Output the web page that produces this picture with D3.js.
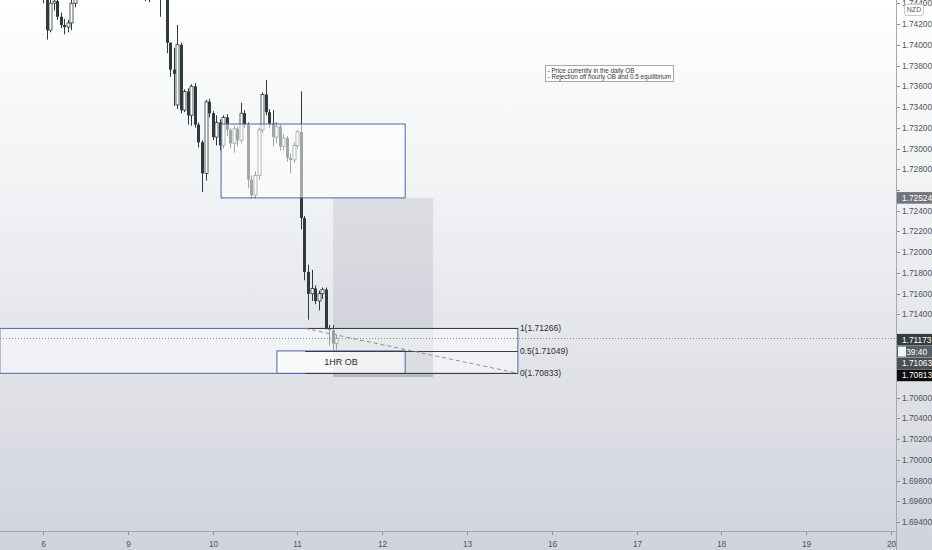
<!DOCTYPE html>
<html><head><meta charset="utf-8">
<script src="https://cdn.jsdelivr.net/npm/d3@7"></script>
<style>html,body{margin:0;padding:0;background:#fff;overflow:hidden}</style>
</head><body><svg id="c" width="932" height="550"></svg>
<script>
// ---- data ----
const dayLabels = ["6","9","10","11","12","13","16","17","18","19","20"];
const priceTicks = [1.694,1.696,1.698,1.700,1.702,1.704,1.706,1.708,1.710,1.712,1.714,1.716,1.718,1.720,1.722,1.724,1.726,1.728,1.730,1.732,1.734,1.736,1.738,1.740,1.742,1.744];
// hourly candles [open, high, low, close], bar 0 = first hour of day "6"
const candles = [
[1.7448,1.7455,1.7440,1.7446],[1.7446,1.7449,1.7405,1.7414],[1.7414,1.7448,1.7412,1.7440],[1.7440,1.7450,1.7433,1.7442],
[1.7442,1.7446,1.7424,1.7427],[1.7427,1.7431,1.7416,1.7419],[1.7419,1.7425,1.7410,1.7417],[1.7417,1.7424,1.7412,1.7421],
[1.7421,1.7446,1.7414,1.7440],[1.7440,1.7458,1.7436,1.7452],[1.7452,1.7461,1.7446,1.7458],[1.7458,1.7466,1.7453,1.7462],
[1.7462,1.7470,1.7455,1.7457],[1.7457,1.7463,1.7449,1.7452],[1.7452,1.7460,1.7447,1.7458],[1.7458,1.7468,1.7454,1.7465],
[1.7465,1.7474,1.7460,1.7470],[1.7470,1.7478,1.7463,1.7466],[1.7466,1.7472,1.7459,1.7462],[1.7462,1.7469,1.7456,1.7467],
[1.7467,1.7475,1.7461,1.7471],[1.7471,1.7476,1.7464,1.7468],[1.7468,1.7473,1.7460,1.7464],[1.7464,1.7470,1.7458,1.7466],
[1.7466,1.7472,1.7457,1.7461],[1.7461,1.7467,1.7453,1.7458],[1.7458,1.7465,1.7452,1.7463],[1.7463,1.7469,1.7455,1.7457],
[1.7457,1.7462,1.7450,1.7455],[1.7455,1.7460,1.7442,1.7452],[1.7452,1.7458,1.7441,1.7454],[1.7454,1.7459,1.7443,1.7450],
[1.7450,1.7456,1.7445,1.7451],[1.7451,1.7455,1.7427,1.7447],[1.7447,1.7458,1.7444,1.7452],[1.7452,1.7455,1.7392,1.7402],
[1.7402,1.7402,1.7369,1.7376],[1.7376,1.7397,1.7341,1.7372],[1.7342,1.7419,1.7338,1.7400],[1.7400,1.7402,1.7334,1.7337],
[1.7337,1.7357,1.7335,1.7355],[1.7355,1.7358,1.7323,1.7332],[1.7332,1.7362,1.7322,1.7360],[1.7360,1.7363,1.7320,1.7323],
[1.7323,1.7325,1.7301,1.7306],[1.7306,1.7308,1.7258,1.7276],[1.7276,1.7347,1.7269,1.7345],[1.7345,1.7348,1.7330,1.7334],
[1.7334,1.7336,1.7308,1.7311],[1.7311,1.7332,1.7303,1.7325],[1.7325,1.7328,1.7298,1.7303],[1.7303,1.7332,1.7300,1.7330],
[1.7330,1.7333,1.7312,1.7318],[1.7318,1.7320,1.7300,1.7305],[1.7305,1.7322,1.7296,1.7319],[1.7319,1.7321,1.7302,1.7308],
[1.7308,1.7344,1.7305,1.7334],[1.7334,1.7337,1.7320,1.7323],[1.7323,1.7325,1.7262,1.7270],[1.7270,1.7274,1.7252,1.7255],
[1.7255,1.7278,1.7252,1.7274],[1.7274,1.7320,1.7270,1.7318],[1.7318,1.7354,1.7315,1.7352],[1.7352,1.7366,1.7332,1.7335],
[1.7335,1.7338,1.7320,1.7324],[1.7324,1.7337,1.7302,1.7311],[1.7311,1.7325,1.7305,1.7321],[1.7321,1.7323,1.7298,1.7302],
[1.7302,1.7314,1.7298,1.7310],[1.7310,1.7312,1.7287,1.7291],[1.7291,1.7295,1.7276,1.7289],[1.7289,1.7306,1.7286,1.7303],
[1.7303,1.7318,1.7300,1.7316],[1.7316,1.7355,1.7222,1.7233],[1.7233,1.7235,1.7173,1.7181],[1.7181,1.7188,1.7135,1.7160],
[1.7160,1.7183,1.7153,1.7165],[1.7165,1.7168,1.7150,1.7153],[1.7153,1.7163,1.7144,1.7160],[1.7160,1.7166,1.7155,1.7164],
[1.7164,1.7166,1.7125,1.7127],[1.7127,1.7130,1.7110,1.7125],[1.7125,1.7130,1.7104,1.7112],[1.7112,1.7121,1.7106,1.71173]
];
const fibLevels = ["1","0.5","0"];
const fibPrices = [1.71266, 1.71049, 1.70833];
const currentPrice = 1.71173;
const countdown = "39:40";
// drawings: [barFrom, barTo, priceTop, priceBottom]
const dailyOB = [-12.2, 134.4, 1.71266, 1.70833];
const hourOB = [66.2, 102.5, 1.71049, 1.70833];
const upperOB = [50.4, 102.5, 1.73236, 1.72524];
const targetZone = [82.1, 110.4, 1.72524, 1.71049];
const stopZone = [82.1, 110.4, 1.71049, 1.70797];
const fibRange = [74.2, 134.4];
const noteAnchor = [142.1, 1.73804];
const noteLines = ["- Price currently in the daily OB", "- Rejection off hourly OB and 0.5 equilibrium"];
const stackTags = [["1.71173","#34403f"],["39:40","#5b5f66"],["1.71063","#4a4e55"],["1.70813","#0c0c0c"]];
const targetTag = ["1.72524","#72757d"];

// ---- layout ----
const W = 932, H = 550, plotW = 896, plotH = 531;
const svg = d3.select("#c");
const x = d3.scaleLinear().domain([0, 240]).range([43, 891]);
const y = d3.scaleLinear().domain([1.694, 1.742]).range([522, 24]);
const fmt = d3.format(".5f");
const font = "'Liberation Sans', Arial, sans-serif";

const defs = svg.append("defs");
const g = defs.append("linearGradient").attr("id","bg").attr("x1",0).attr("y1",0).attr("x2",0).attr("y2",1);
g.append("stop").attr("offset","0").attr("stop-color","#ffffff");
g.append("stop").attr("offset","0.35").attr("stop-color","#f1f2f4");
g.append("stop").attr("offset","1").attr("stop-color","#d0d3db");
defs.append("clipPath").attr("id","plot").append("rect").attr("x",0).attr("y",0).attr("width",plotW).attr("height",plotH);

svg.append("rect").attr("width",W).attr("height",H).attr("fill","url(#bg)");

const plot = svg.append("g").attr("clip-path","url(#plot)");

// candles
const dark = "#2f3b3b";
const cg = plot.append("g");
candles.forEach((c, i) => {
  const [o,h,l,cl] = c;
  const cx = Math.round(x(i)) + 0.5;
  cg.append("line").attr("x1",cx).attr("x2",cx).attr("y1",y(h)).attr("y2",y(l)).attr("stroke",dark).attr("stroke-width",1);
  const top = y(Math.max(o,cl)), bot = y(Math.min(o,cl));
  const bull = cl >= o;
  cg.append("rect").attr("x",cx-1.5).attr("width",3).attr("y",top).attr("height",Math.max(1,bot-top))
    .attr("fill", bull ? "#ffffff" : dark).attr("stroke", dark).attr("stroke-width", bull ? 0.8 : 0);
});

function zone(z, fill, stroke){
  const r = plot.append("rect").attr("x",x(z[0])).attr("y",y(z[2])).attr("width",x(z[1])-x(z[0])).attr("height",y(z[3])-y(z[2]))
    .attr("fill",fill);
  if (stroke) r.attr("stroke",stroke).attr("stroke-width",1);
  return r;
}
// position tool (grey)
zone(targetZone, "rgba(120,125,140,0.17)");
zone(stopZone, "rgba(90,95,110,0.30)");
// order blocks
zone(dailyOB, "rgba(255,255,255,0.5)", "#4f66aa");
zone(upperOB, "rgba(255,255,255,0.55)", "#4f66aa");
zone(hourOB, "rgba(255,255,255,0.62)", "#4f66aa");

// current price line
plot.append("line").attr("x1",0).attr("x2",plotW).attr("y1",Math.round(y(currentPrice))+0.5).attr("y2",Math.round(y(currentPrice))+0.5)
  .attr("stroke","#8a8f99").attr("stroke-width",1).attr("stroke-dasharray","1,2");

// fib
fibPrices.forEach((p,k) => {
  const yy = Math.round(y(p))+0.5;
  plot.append("line").attr("x1",x(fibRange[0])).attr("x2",x(fibRange[1])).attr("y1",yy).attr("y2",yy)
    .attr("stroke","#3a3d45").attr("stroke-width",1);
  plot.append("text").attr("x",x(fibRange[1])+2).attr("y",yy).attr("dy","0.35em")
    .attr("font-family",font).attr("font-size",8.5).attr("fill","#2a2d33")
    .text(fibLevels[k] + "(" + fmt(p) + ")");
});
plot.append("line").attr("x1",x(fibRange[0])).attr("y1",y(fibPrices[0])).attr("x2",x(fibRange[1])).attr("y2",y(fibPrices[2]))
  .attr("stroke","#8d9099").attr("stroke-width",1).attr("stroke-dasharray","4,3");

// 1HR OB label
plot.append("text").attr("x",(x(hourOB[0])+x(hourOB[1]))/2).attr("y",(y(hourOB[2])+y(hourOB[3]))/2).attr("dy","0.35em")
  .attr("text-anchor","middle").attr("font-family",font).attr("font-size",9).attr("fill","#2a2d33").text("1HR OB");

// note box
const nx = x(noteAnchor[0]), ny = y(noteAnchor[1]);
plot.append("rect").attr("x",Math.round(nx)+0.5).attr("y",Math.round(ny)+0.5).attr("width",128).attr("height",16)
  .attr("fill","#ffffff").attr("stroke","#8f939b").attr("stroke-width",0.8);
noteLines.forEach((t,k) => {
  plot.append("text").attr("x",nx+2.5).attr("y",ny+5.5+k*6.6).attr("dy","0.35em")
    .attr("font-family",font).attr("font-size",6.3).attr("fill","#333").text(t);
});

// ---- axes ----
// tag positions (TradingView stacks colliding labels)
const baseY = y(+stackTags[stackTags.length-1][0]);
const stackY = stackTags.map((t,k) => baseY - (stackTags.length-1-k)*11.9);
const tagYs = stackY.concat([y(+targetTag[0])]);

// price axis
svg.append("line").attr("x1",plotW+0.5).attr("x2",plotW+0.5).attr("y1",0).attr("y2",H).attr("stroke","#a4a8b0").attr("stroke-width",1);
priceTicks.forEach(p => {
  const yy = Math.round(y(p))+0.5;
  svg.append("line").attr("x1",plotW+1).attr("x2",plotW+4).attr("y1",yy).attr("y2",yy).attr("stroke","#8a8e96");
  if (tagYs.some(t => Math.abs(t - yy) < 9)) return;
  svg.append("text").attr("x",902).attr("y",yy).attr("dy","0.35em").attr("font-family",font).attr("font-size",8.3)
    .attr("fill","#50545c").text(fmt(p));
});
// time axis
svg.append("line").attr("x1",0).attr("x2",plotW).attr("y1",plotH+0.5).attr("y2",plotH+0.5).attr("stroke","#a4a8b0");
dayLabels.forEach((d,k) => {
  const xx = Math.round(x(k*24))+0.5;
  svg.append("line").attr("x1",xx).attr("x2",xx).attr("y1",plotH+1).attr("y2",plotH+4).attr("stroke","#8a8e96");
  svg.append("text").attr("x",xx).attr("y",544).attr("dy","0.35em").attr("text-anchor","middle")
    .attr("font-family",font).attr("font-size",8.3).attr("fill","#50545c").text(d);
});

// price tags
function tag(label, bg, yc, square){
  svg.append("rect").attr("x",plotW+1).attr("y",yc-5.8).attr("width",W-plotW-1).attr("height",11.6).attr("fill",bg);
  if (square) {
    svg.append("rect").attr("x",plotW+2).attr("y",yc-5).attr("width",8).attr("height",10).attr("fill","#f4f5f7");
    svg.append("text").attr("x",927).attr("y",yc).attr("dy","0.35em").attr("text-anchor","end")
      .attr("font-family",font).attr("font-size",8.3).attr("fill","#fff").text(label);
  } else {
    svg.append("text").attr("x",902).attr("y",yc).attr("dy","0.35em")
      .attr("font-family",font).attr("font-size",8.3).attr("fill","#fff").text(label);
  }
}
tag(targetTag[0], targetTag[1], y(+targetTag[0]), false);
stackTags.forEach((t,k) => tag(t[0], t[1], stackY[k], t[0] === countdown));

// currency badge
svg.append("rect").attr("x",904.5).attr("y",4.5).attr("width",19).attr("height",11).attr("rx",2)
  .attr("fill","#ffffff").attr("stroke","#c4c7ce");
svg.append("text").attr("x",914).attr("y",10).attr("dy","0.35em").attr("text-anchor","middle")
  .attr("font-family",font).attr("font-size",7).attr("fill","#50545c").text("NZD");
</script></body></html>
